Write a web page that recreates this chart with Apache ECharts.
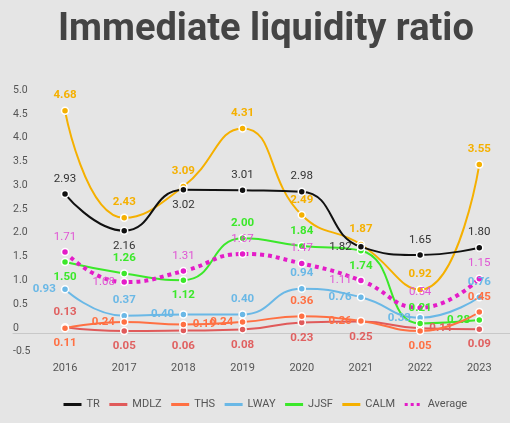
<!DOCTYPE html>
<html>
<head>
<meta charset="utf-8">
<script src="https://cdn.jsdelivr.net/npm/echarts@6/dist/echarts.min.js"></script>
<style>
  html, body { margin: 0; padding: 0; background: #e5e5e5; }
  #chart { width: 510px; height: 423px; }
</style>
</head>
<body>
<div id="chart"></div>
<script>
const years = [2016, 2017, 2018, 2019, 2020, 2021, 2022, 2023];

const tr   = [2.93, 2.16, 3.02, 3.01, 2.98, 1.82, 1.65, 1.80];
const mdlz = [0.13, 0.05, 0.06, 0.08, 0.23, 0.25, 0.11, 0.09];
const ths  = [0.11, 0.24, 0.19, 0.24, 0.36, 0.26, 0.05, 0.45];
const lway = [0.93, 0.37, 0.40, 0.40, 0.94, 0.76, 0.33, 0.76];
const jjsf = [1.50, 1.26, 1.12, 2.00, 1.84, 1.74, 0.21, 0.28];
const calm = [4.68, 2.43, 3.09, 4.31, 2.49, 1.87, 0.92, 3.55];
const avg  = [1.71, 1.08, 1.31, 1.67, 1.47, 1.11, 0.54, 1.15];

// where each value label sits (style only)
const trPos   = ['top', 'bottom', 'bottom', 'top', 'top', 'left', 'top', 'top'];
const mdlzPos = ['top', 'bottom', 'bottom', 'bottom', 'bottom', 'bottom', 'right', 'bottom'];
const thsPos  = ['bottom', 'left', 'right', 'left', 'top', 'left', 'bottom', 'top'];
const lwayPos = ['left', 'top', 'left', 'top', 'top', 'left', 'left', 'top'];
const jjsfPos = ['bottom', 'top', 'bottom', 'top', 'top', 'bottom', 'top', 'left'];
const calmPos = ['top', 'top', 'top', 'top', 'top', 'top', 'top', 'top'];
const avgPos  = ['top', 'left', 'top', 'top', 'top', 'left', 'top', 'top'];

const font = 'Roboto, "Noto Sans", sans-serif';

function makeSeries(name, values, positions, color, labelColor, opts) {
  opts = opts || {};
  return {
    name: name,
    type: 'line',
    smooth: true,
    symbol: 'circle',
    symbolSize: 7,
    z: opts.z || 2,
    lineStyle: { color: color, width: opts.width || 2, type: opts.type || 'solid' },
    itemStyle: { color: color, borderColor: '#fff', borderWidth: 1.5 },
    label: {
      show: true,
      color: labelColor,
      fontFamily: font,
      fontSize: 11.5,
      fontWeight: opts.bold ? 'bold' : 'normal',
      formatter: p => p.value[1].toFixed(2)
    },
    data: values.map((v, i) => ({
      value: [years[i], v],
      label: { position: positions[i] }
    }))
  };
}

const chart = echarts.init(document.getElementById('chart'));

chart.setOption({
  backgroundColor: '#e5e5e5',
  animation: false,
  title: {
    text: 'Immediate liquidity ratio',
    left: 53,
    top: 6,
    textStyle: { fontFamily: font, fontSize: 38, fontWeight: 'bold', color: '#444' }
  },
  legend: {
    top: 394,
    left: 57,
    itemWidth: 18,
    itemHeight: 10,
    itemGap: 8,
    textStyle: { fontFamily: font, fontSize: 11, color: '#555' },
    lineStyle: { width: 3 },
    itemStyle: { opacity: 0 },
    data: ['TR', 'MDLZ', 'THS', 'LWAY', 'JJSF', 'CALM', 'Average']
  },
  grid: { left: 13, right: 0, top: 95.6, bottom: 65.8 },
  xAxis: {
    type: 'value',
    min: 2015.121,
    max: 2023.519,
    axisLine: { show: true, lineStyle: { color: '#c8c8c8', width: 1 } },
    axisTick: { show: false },
    splitLine: { show: false },
    axisLabel: {
      customValues: years,
      formatter: v => String(v),
      color: '#555',
      fontFamily: font,
      fontSize: 11,
      margin: 6
    }
  },
  yAxis: {
    type: 'value',
    min: -0.5,
    max: 5,
    interval: 0.5,
    axisLine: { show: false },
    axisTick: { show: false },
    splitLine: { show: false },
    axisLabel: {
      inside: true,
      margin: 0,
      verticalAlign: 'bottom',
      color: '#555',
      fontFamily: font,
      fontSize: 10.5,
      formatter: v => (v === 0 ? '0' : v.toFixed(1))
    }
  },
  series: [
    makeSeries('TR', tr, trPos, '#111111', '#333333', { z: 3 }),
    makeSeries('MDLZ', mdlz, mdlzPos, '#e05a5a', '#e06060', { bold: true }),
    makeSeries('THS', ths, thsPos, '#ff7043', '#ff7043', { bold: true, z: 3 }),
    makeSeries('LWAY', lway, lwayPos, '#6ab8e6', '#6ab8e6', { bold: true }),
    makeSeries('JJSF', jjsf, jjsfPos, '#3be82a', '#3be82a', { bold: true }),
    makeSeries('CALM', calm, calmPos, '#f5b000', '#f5b000', { bold: true }),
    makeSeries('Average', avg, avgPos, '#e41cc8', '#e055d4', { width: 4, type: 'dotted' })
  ]
});
</script>
</body>
</html>
